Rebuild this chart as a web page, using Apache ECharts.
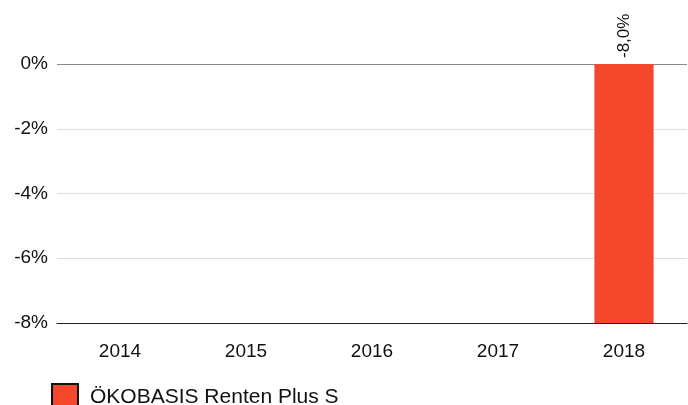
<!DOCTYPE html>
<html><head><meta charset="utf-8">
<script src="https://cdn.jsdelivr.net/npm/echarts@6/dist/echarts.min.js"></script>
<style>html,body{margin:0;padding:0;background:#fff}#c{width:688px;height:405px}</style>
</head><body><div id="c"></div>
<script>
const categories = ['2014','2015','2016','2017','2018'];
const seriesName = 'ÖKOBASIS Renten Plus S';
const values = [null, null, null, null, -8.0];
const yTicks = [-8, -6, -4, -2, 0];

const chart = echarts.init(document.getElementById('c'), null, {renderer:'canvas'});
const font = 'Liberation Sans, Arial, sans-serif';
chart.setOption({
  animation: false,
  grid: {left: 57, right: 1, top: 64, bottom: 82, containLabel: false},
  xAxis: {
    type: 'category', data: categories,
    axisLine: {onZero: false, lineStyle: {color: '#222', width: 1}},
    axisTick: {alignWithLabel: true, length: 5, lineStyle: {color: '#222'}},
    axisLabel: {color: '#111', fontSize: 19, fontFamily: font, margin: 19}
  },
  yAxis: {
    type: 'value', min: yTicks[0], max: yTicks[yTicks.length-1], interval: 2,
    axisLine: {show: false}, axisTick: {show: false},
    axisLabel: {color: '#111', fontSize: 19, fontFamily: font, margin: 9,
      formatter: v => v + '%'},
    splitLine: {lineStyle: {color: ['#222', '#dcdcdc', '#dcdcdc', '#dcdcdc', '#888'], width: 1}}
  },
  legend: {
    left: 46, top: 378, itemWidth: 26, itemHeight: 26, itemGap: 10,
    icon: 'rect',
    itemStyle: {borderColor: '#111', borderWidth: 2},
    textStyle: {color: '#111', fontSize: 21, fontFamily: font, padding: [0,0,0,7]},
    data: [seriesName]
  },
  series: [{
    name: seriesName, type: 'bar', data: values, barWidth: '47%',
    itemStyle: {color: '#f5472a'},
    label: {
      show: true, position: 'top', rotate: 90, distance: 6,
      align: 'left', verticalAlign: 'middle',
      fontSize: 17, fontFamily: font, color: '#111',
      formatter: p => p.value.toFixed(1).replace('.', ',') + '%'
    }
  }]
});
</script></body></html>
